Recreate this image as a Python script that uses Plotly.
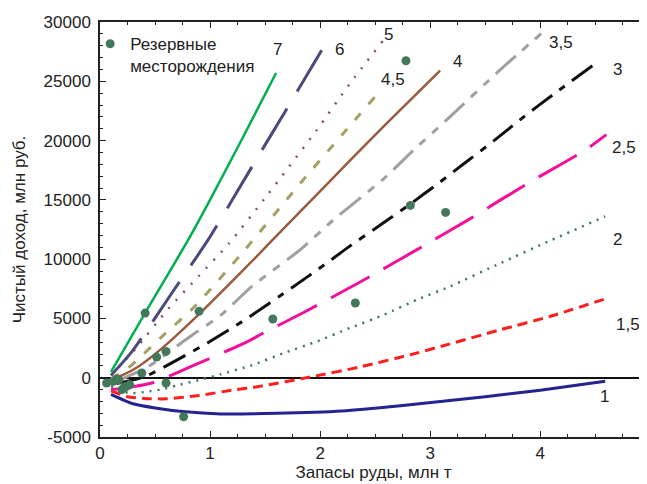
import plotly.graph_objects as go

# ---- data ----
x_1 = [0.1, 0.3, 0.5, 0.75, 1.1, 1.6, 2.2, 2.73, 3.5, 4.0, 4.59]
y_1 = [-1400, -2200, -2550, -2850, -3050, -3000, -2800, -2360, -1600, -1050, -300]

x_15 = [0.1, 0.25, 0.4, 0.6, 0.9, 1.2, 1.45, 1.91, 2.36, 2.82, 3.12, 3.64, 4.1, 4.59]
y_15 = [-1100, -1600, -1750, -1780, -1500, -1050, -730, 60, 900, 1940, 2700, 4050, 5200, 6650]

x_2 = [0.1, 0.2, 0.3, 0.45, 0.55, 0.7, 0.91, 1.1, 1.38, 1.67, 1.97, 2.27, 2.58, 2.88, 3.18, 3.64, 4.1, 4.59]
y_2 = [-700, -1150, -1300, -1150, -1000, -650, -170, 300, 1050, 2080, 3060, 4190, 5310, 6580, 7700, 9670, 11600, 13600]

x_25 = [0.1, 0.2, 0.47, 0.83, 1.33, 1.48, 1.85, 2.36, 2.88, 3.38, 3.64, 4.0, 4.41, 4.6]
y_25 = [-1000, -900, -450, 950, 3000, 3750, 5500, 8050, 10800, 13500, 15000, 17000, 19200, 20500]

x_3 = [0.15, 0.41, 0.71, 0.98, 1.32, 1.76, 2.02, 2.27, 2.55, 2.79, 3.06, 3.58, 3.85, 4.12, 4.48]
y_3 = [-500, 100, 1550, 2950, 4900, 7700, 9400, 11100, 12900, 14450, 16300, 20000, 22000, 23900, 26350]

x_35 = [0.15, 0.44, 0.8, 1.1, 1.38, 1.82, 2.12, 2.58, 2.85, 3.15, 3.64, 4.03]
y_35 = [-300, 950, 3350, 5300, 7700, 10800, 13300, 16800, 19200, 21750, 26000, 29200]

x_4 = [0.1, 0.2, 0.35, 0.56, 0.86, 1.17, 1.42, 1.67, 1.97, 2.27, 2.6, 3.09]
y_4 = [-100, 200, 950, 2450, 5000, 7850, 10200, 12600, 15450, 18300, 21400, 25900]

x_45 = [0.1, 0.26, 0.56, 0.86, 1.29, 1.82, 2.21, 2.5]
y_45 = [-100, 850, 3450, 6000, 10500, 16400, 20600, 23700]

x_5 = [0.1, 0.32, 0.62, 0.9, 1.17, 1.52, 1.97, 2.27, 2.57]
y_5 = [200, 2400, 5800, 8600, 11300, 15400, 20900, 24800, 28400]

x_6 = [0.1, 0.29, 0.65, 0.98, 1.42, 1.75, 2.09]
y_6 = [200, 2200, 7100, 11600, 18400, 23500, 28800]

x_7 = [0.1, 0.4, 0.8, 1.0, 1.3, 1.6]
y_7 = [500, 5300, 11600, 15000, 20300, 25700]

deposits_x = [0.06, 0.12, 0.15, 0.17, 0.2, 0.22, 0.24, 0.27, 0.38, 0.41, 0.515, 0.6, 0.6,
              0.76, 0.9, 1.57, 2.32, 2.78, 2.82, 3.14]
deposits_y = [-450, -300, -100, -170, -1000, -800, -730, -600, 400, 5450, 1740, 2220, -450,
              -3290, 5600, 4950, 6300, 26730, 14530, 13940]

curve_labels = ["7", "6", "5", "4,5", "4", "3,5", "3", "2,5", "2", "1,5", "1"]
label_x = [1.61, 2.18, 2.62, 2.66, 3.25, 4.19, 4.70, 4.76, 4.70, 4.80, 4.58]
label_y = [27660, 27660, 28920, 25130, 26640, 28250, 25970, 19390, 11640, 4470, -1600]

x_ticks = [0, 1, 2, 3, 4]
y_ticks = [-5000, 0, 5000, 10000, 15000, 20000, 25000, 30000]

# ---- figure ----
FONT = "Liberation Sans, Arial, sans-serif"
fig = go.Figure()

curves = [
    (x_1, y_1, "#25238f", "solid", 3),
    (x_15, y_15, "#ff1e1e", "10px,6px", 3),
    (x_2, y_2, "#3d7a5c", "2px,6px", 2.5),
    (x_25, y_25, "#f2109a", "44px,16px", 3),
    (x_3, y_3, "#111111", "25px,9px,7px,9px", 3),
    (x_35, y_35, "#a0a0a0", "27px,9px,8px,9px,8px,9px", 3),
    (x_4, y_4, "#9a5a3e", "solid", 2.5),
    (x_45, y_45, "#a3a064", "9px,12px", 3),
    (x_5, y_5, "#8a4a78", "2px,9px", 2.5),
    (x_6, y_6, "#4a4a7e", "48px,20px", 3),
    (x_7, y_7, "#00b050", "solid", 2.5),
]
for xs, ys, col, dash, w in curves:
    fig.add_trace(go.Scatter(x=xs, y=ys, mode="lines",
                             line=dict(color=col, dash=dash, width=w, shape="spline", smoothing=0.6),
                             showlegend=False, hoverinfo="skip"))

fig.add_trace(go.Scatter(x=deposits_x, y=deposits_y, mode="markers",
                         marker=dict(color="#44785b", size=9),
                         name="Резервные<br>месторождения", showlegend=True))

for t, lx, ly in zip(curve_labels, label_x, label_y):
    fig.add_annotation(x=lx, y=ly, text=t, showarrow=False, xanchor="center", yanchor="middle",
                       font=dict(family=FONT, size=17, color="#222222"))

axis_common = dict(
    showline=True, linecolor="#222222", linewidth=1.5, mirror="ticks",
    ticks="inside", ticklen=6, tickwidth=1, tickcolor="#222222",
    showgrid=False, automargin=False,
    tickfont=dict(family=FONT, size=17, color="#222222"),
)
fig.update_xaxes(range=[0, 4.97], tickvals=x_ticks, ticktext=[str(v) for v in x_ticks],
                 minor=dict(dtick=0.25, ticks="inside", ticklen=3, tickcolor="#222222", showgrid=False),
                 zeroline=False,
                 title=dict(text="Запасы руды, млн т", font=dict(family=FONT, size=17, color="#222222"), standoff=0),
                 **axis_common)
fig.update_yaxes(range=[-5000, 30000], tickvals=y_ticks, ticktext=[str(v) for v in y_ticks],
                 minor=dict(dtick=1000, ticks="inside", ticklen=3, tickcolor="#222222", showgrid=False),
                 zeroline=True, zerolinecolor="#111111", zerolinewidth=1.5, ticklabelstandoff=4,
                 title=dict(text="Чистый доход, млн руб.", font=dict(family=FONT, size=17, color="#222222"), standoff=14),
                 **axis_common)

# the page body has an 8px default margin, so the figure is sized/offset to land
# its plot area on the same pixels as the reference inside a 647x484 window
fig.update_layout(
    width=639, height=476,
    margin=dict(l=92, r=0, t=14, b=47, autoexpand=False),
    plot_bgcolor="white", paper_bgcolor="white",
    legend=dict(x=-0.018, y=0.99, xanchor="left", yanchor="top", bgcolor="rgba(0,0,0,0)",
                font=dict(family=FONT, size=17, color="#222222"), valign="top",
                itemwidth=30, tracegroupgap=0),
)

fig.write_html("out.html")
